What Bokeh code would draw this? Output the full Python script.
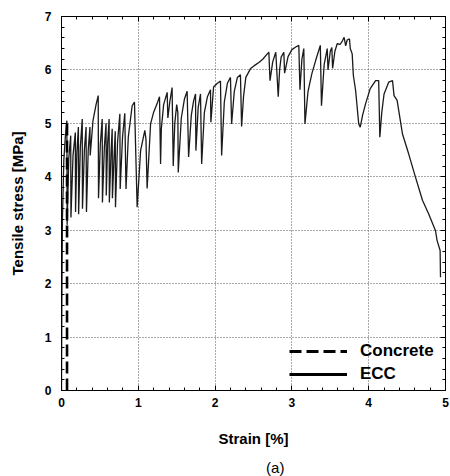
from bokeh.plotting import figure
from bokeh.layouts import column
from bokeh.models import (LinearAxis, Range1d, Legend, LegendItem,
                          SingleIntervalTicker)
from bokeh.core.properties import value
from bokeh.embed import file_html
from bokeh.resources import INLINE

# ---- data ----
ecc_strain = [0.000, 0.004, 0.012, 0.030, 0.050, 0.070,
              0.073, 0.095, 0.120, 0.123, 0.150, 0.180, 0.183, 0.200, 0.220,
              0.223, 0.245, 0.270, 0.273, 0.298, 0.320, 0.325, 0.348, 0.370,
              0.374, 0.410, 0.450, 0.478, 0.482, 0.505, 0.530, 0.533, 0.558,
              0.580, 0.583, 0.600, 0.620, 0.623, 0.645, 0.660, 0.663, 0.685,
              0.700, 0.703, 0.730, 0.760, 0.764, 0.795, 0.824, 0.840, 0.870,
              0.920, 0.950, 0.985, 1.030, 1.085, 1.100, 1.115, 1.160, 1.200,
              1.245, 1.276, 1.290, 1.300, 1.330, 1.376, 1.385, 1.410, 1.440,
              1.455, 1.475, 1.500, 1.515, 1.520, 1.560, 1.600, 1.636, 1.655,
              1.690, 1.720, 1.745, 1.750, 1.780, 1.810, 1.825, 1.860, 1.900,
              1.940, 1.945, 1.980, 2.030, 2.070, 2.085, 2.120, 2.160, 2.200,
              2.215, 2.250, 2.290, 2.330, 2.345, 2.370, 2.400, 2.460, 2.520,
              2.570, 2.620, 2.680, 2.700, 2.715, 2.750, 2.790, 2.822, 2.840,
              2.860, 2.895, 2.905, 2.950, 3.000, 3.050, 3.090, 3.105, 3.130,
              3.155, 3.170, 3.210, 3.260, 3.310, 3.370, 3.385, 3.420, 3.460,
              3.470, 3.500, 3.520, 3.530, 3.560, 3.590, 3.630, 3.660, 3.680,
              3.700, 3.720, 3.750, 3.760, 3.785, 3.800, 3.830, 3.870, 3.890,
              3.920, 3.960, 4.020, 4.090, 4.130, 4.145, 4.170, 4.200, 4.260,
              4.310, 4.330, 4.370, 4.440, 4.520, 4.610, 4.700, 4.780, 4.870,
              4.890, 4.930, 4.935]
ecc_stress = [0.00, 1.50, 3.20, 4.30, 4.75, 5.05,
              3.10, 4.35, 4.77, 3.24, 4.40, 4.83, 3.34, 4.45, 4.93,
              3.30, 4.55, 5.08, 3.40, 4.50, 4.93, 3.34, 4.50, 4.93,
              4.40, 5.05, 5.35, 5.52, 3.60, 4.60, 5.08, 3.52, 4.55,
              5.00, 3.65, 4.60, 5.08, 3.52, 4.45, 4.90, 3.60, 4.40,
              4.85, 3.43, 4.65, 5.18, 3.77, 4.75, 5.19, 3.77, 4.75,
              5.33, 5.40, 3.43, 4.49, 4.87, 4.70, 3.78, 4.99, 5.21,
              5.37, 5.50, 4.24, 4.90, 5.35, 5.58, 5.10, 5.40, 5.67,
              4.20, 5.00, 5.35, 5.20, 4.08, 5.10, 5.45, 5.60, 4.37,
              5.15, 5.42, 5.55, 4.49, 5.30, 5.55, 4.24, 5.20, 5.50,
              5.63, 5.02, 5.68, 5.75, 5.79, 4.40, 5.40, 5.75, 5.86,
              4.99, 5.60, 5.86, 5.91, 4.94, 5.50, 5.86, 6.02, 6.09,
              6.14, 6.20, 6.30, 6.33, 5.80, 6.15, 6.33, 5.50, 6.00,
              6.24, 6.33, 5.94, 6.25, 6.38, 6.43, 6.46, 5.63, 6.20,
              6.40, 4.99, 5.60, 5.93, 6.18, 6.46, 5.33, 6.10, 6.40,
              6.00, 6.35, 6.42, 6.03, 6.35, 6.49, 6.48, 6.55, 6.61,
              6.45, 6.56, 6.58, 6.40, 6.30, 5.90, 5.61, 4.99, 4.93,
              5.15, 5.37, 5.65, 5.80, 5.80, 4.74, 5.20, 5.55, 5.77,
              5.80, 5.52, 5.43, 4.80, 4.43, 3.99, 3.56, 3.31, 2.99,
              2.81, 2.62, 2.12]

concrete_strain = [0.072, 0.072]
concrete_stress = [0.0, 5.05]

x_ticks_step = 1
y_ticks_step = 1
series_names = ["Concrete", "ECC"]
x_label = "Strain [%]"
y_label = "Tensile stress [MPa]"
caption = "(a)"

FONT = "Liberation Sans"

p = figure(width=450, height=450, output_backend="svg", toolbar_location=None,
           x_range=Range1d(0, 5), y_range=Range1d(0, 7),
           min_border_left=61, min_border_right=5, min_border_top=16,
           min_border_bottom=60, x_axis_location=None, y_axis_location=None)
p.outline_line_color = "black"
p.outline_line_width = 1
p.background_fill_color = "white"
p.border_fill_color = "white"


def make_axis(label, show_labels, step):
    ax = LinearAxis(ticker=SingleIntervalTicker(interval=step, num_minor_ticks=5))
    ax.axis_line_color = "black"
    ax.major_tick_in = 5
    ax.major_tick_out = 0
    ax.minor_tick_in = 3
    ax.minor_tick_out = 0
    ax.major_tick_line_color = "black"
    ax.minor_tick_line_color = "black"
    if show_labels:
        ax.major_label_text_font = FONT
        ax.major_label_text_font_style = "bold"
        ax.major_label_text_font_size = "12px"
        ax.major_label_text_color = "black"
        ax.axis_label = label
        ax.axis_label_text_font = FONT
        ax.axis_label_text_font_style = "bold"
        ax.axis_label_text_font_size = "15px"
        ax.axis_label_text_color = "black"
    else:
        ax.major_label_text_font_size = "0px"
        ax.major_label_standoff = 0
    return ax


xb = make_axis(x_label, True, x_ticks_step)
xb.major_label_standoff = 7
xb.axis_label_standoff = 20
yl = make_axis(y_label, True, y_ticks_step)
yl.major_label_standoff = 10
yl.axis_label_standoff = 16
xt = make_axis(None, False, x_ticks_step)
yr = make_axis(None, False, y_ticks_step)
p.add_layout(xb, "below")
p.add_layout(yl, "left")
p.add_layout(xt, "above")
p.add_layout(yr, "right")

p.xgrid.ticker = xb.ticker
p.ygrid.ticker = yl.ticker
for g in (p.xgrid, p.ygrid):
    g.grid_line_color = "#555555"
    g.grid_line_dash = "1 2"
    g.grid_line_width = 1

p.line(ecc_strain, ecc_stress, line_color="#1a1a1a", line_width=1.3)
p.line(concrete_strain, concrete_stress, line_color="black", line_width=2.6,
       line_dash="12 5")

nan = float("nan")
leg_c = p.line([nan], [nan], line_color="black", line_width=3, line_dash="12 5")
leg_e = p.line([nan], [nan], line_color="black", line_width=3)

legend = Legend(items=[LegendItem(label=series_names[0], renderers=[leg_c]),
                       LegendItem(label=series_names[1], renderers=[leg_e])],
                location=(228, 6))
legend.label_text_font = FONT
legend.label_text_font_style = "bold"
legend.label_text_font_size = "17px"
legend.label_text_color = "black"
legend.glyph_width = 58
legend.glyph_height = 20
legend.label_height = 20
legend.label_standoff = 13
legend.spacing = 3
legend.padding = 0
legend.margin = 0
legend.border_line_color = None
legend.background_fill_alpha = 0
p.add_layout(legend, "center")

# caption strip under the chart, holding "(a)"
pc = figure(width=450, height=26, output_backend="svg", toolbar_location=None,
            x_range=Range1d(0, 450), y_range=Range1d(0, 26),
            min_border=0, x_axis_location=None, y_axis_location=None)
pc.outline_line_color = None
pc.grid.visible = False
pc.background_fill_color = "white"
pc.border_fill_color = "white"
pc.text(x=[250.5], y=[9], text=[caption], text_font=value(FONT),
        text_font_size="15px", text_font_style="normal", text_color="black",
        text_align="center", text_baseline="middle")

layout = column(p, pc, spacing=0)
open("out.html", "w").write(file_html(layout, INLINE))
